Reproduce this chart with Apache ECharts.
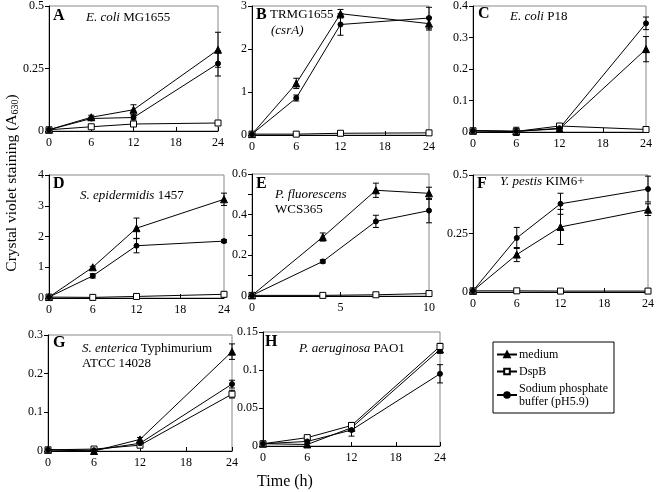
<!DOCTYPE html>
<html><head><meta charset="utf-8">
<script src="https://cdn.jsdelivr.net/npm/echarts@6/dist/echarts.min.js"></script>
<style>html,body{margin:0;padding:0;background:#fff}#c{width:660px;height:492px}</style>
</head><body><div id="c"></div>
<script>
// Time points
var t24 = [0, 6, 12, 24];
var tE = [0, 4, 7, 10];
var xTicks24 = [0, 6, 12, 18, 24];
var xTicksE = [0, 5, 10];

// Series names
var names = ['medium', 'DspB', 'Sodium phosphate buffer (pH5.9)'];

// Panel A: E. coli MG1655
var A_medium = [0.005, 0.055, 0.085, 0.325], A_medium_err = [0, 0.008, 0.02, 0.07];
var A_dspb = [0.005, 0.017, 0.028, 0.032], A_dspb_err = [0, 0.005, 0.008, 0.006];
var A_buffer = [0.005, 0.05, 0.054, 0.27], A_buffer_err = [0, 0.005, 0.01, 0.05];
// Panel B: TRMG1655 (csrA)
var B_medium = [0.02, 1.2, 2.82, 2.59], B_medium_err = [0, 0.12, 0.1, 0.15];
var B_dspb = [0.02, 0.02, 0.04, 0.05], B_dspb_err = [0, 0, 0, 0];
var B_buffer = [0.02, 0.86, 2.57, 2.72], B_buffer_err = [0, 0.07, 0.25, 0.25];
// Panel C: E. coli P18
var C_medium = [0.004, 0.002, 0.01, 0.263], C_medium_err = [0, 0.003, 0.004, 0.04];
var C_dspb = [0.004, 0.002, 0.019, 0.008], C_dspb_err = [0, 0.013, 0.003, 0.003];
var C_buffer = [0.004, 0.002, 0.012, 0.345], C_buffer_err = [0, 0.003, 0.003, 0.02];
// Panel D: S. epidermidis 1457
var D_medium = [0.03, 1.0, 2.27, 3.21], D_medium_err = [0, 0.03, 0.33, 0.2];
var D_dspb = [0.03, 0.02, 0.05, 0.12], D_dspb_err = [0, 0, 0.01, 0.03];
var D_buffer = [0.03, 0.72, 1.70, 1.85], D_buffer_err = [0, 0.07, 0.23, 0.05];
// Panel E: P. fluorescens WCS365
var E_medium = [0.003, 0.29, 0.52, 0.505], E_medium_err = [0, 0.02, 0.035, 0.03];
var E_dspb = [0.003, 0.003, 0.006, 0.012], E_dspb_err = [0, 0, 0, 0.004];
var E_buffer = [0.003, 0.17, 0.367, 0.42], E_buffer_err = [0, 0.008, 0.03, 0.06];
// Panel F: Y. pestis KIM6+
var F_medium = [0.005, 0.16, 0.278, 0.352], F_medium_err = [0, 0.03, 0.075, 0.025];
var F_dspb = [0.005, 0.005, 0.004, 0.004], F_dspb_err = [0, 0, 0, 0];
var F_buffer = [0.005, 0.231, 0.377, 0.44], F_buffer_err = [0, 0.045, 0.045, 0.055];
// Panel G: S. enterica Typhimurium ATCC 14028
var G_medium = [0.003, 0.0, 0.03, 0.257], G_medium_err = [0, 0.002, 0.005, 0.02];
var G_dspb = [0.003, 0.005, 0.015, 0.147], G_dspb_err = [0, 0.002, 0.003, 0.01];
var G_buffer = [0.003, 0.002, 0.02, 0.173], G_buffer_err = [0, 0.002, 0.005, 0.01];
// Panel H: P. aeruginosa PAO1
var H_medium = [0.003, 0.002, 0.024, 0.127], H_medium_err = [0, 0.002, 0.005, 0.005];
var H_dspb = [0.003, 0.011, 0.027, 0.131], H_dspb_err = [0, 0.002, 0.004, 0.004];
var H_buffer = [0.003, 0.006, 0.021, 0.095], H_buffer_err = [0, 0.003, 0.008, 0.012];

// Y axis ranges
var yMax = [0.5, 3, 0.4, 4, 0.6, 0.5, 0.3, 0.15];
var yInt = [0.25, 1, 0.1, 1, 0.2, 0.25, 0.1, 0.05];

var FONT = '"Liberation Serif", "DejaVu Serif", serif';

var panels = [
  {t: t24, xmax: 24, xint: 6, d: [[A_medium, A_medium_err], [A_dspb, A_dspb_err], [A_buffer, A_buffer_err]], g: [49, 5, 169, 126]},
  {t: t24, xmax: 24, xint: 6, d: [[B_medium, B_medium_err], [B_dspb, B_dspb_err], [B_buffer, B_buffer_err]], g: [252, 4, 177, 131]},
  {t: t24, xmax: 24, xint: 6, d: [[C_medium, C_medium_err], [C_dspb, C_dspb_err], [C_buffer, C_buffer_err]], g: [473, 4, 173, 128]},
  {t: t24, xmax: 24, xint: 6, d: [[D_medium, D_medium_err], [D_dspb, D_dspb_err], [D_buffer, D_buffer_err]], g: [49, 175, 175, 123]},
  {t: tE, xmax: 10, xint: 5, d: [[E_medium, E_medium_err], [E_dspb, E_dspb_err], [E_buffer, E_buffer_err]], g: [252, 174, 177, 122], minor: true},
  {t: t24, xmax: 24, xint: 6, d: [[F_medium, F_medium_err], [F_dspb, F_dspb_err], [F_buffer, F_buffer_err]], g: [473, 175, 175, 117]},
  {t: t24, xmax: 24, xint: 6, d: [[G_medium, G_medium_err], [G_dspb, G_dspb_err], [G_buffer, G_buffer_err]], g: [48, 335, 184, 116]},
  {t: t24, xmax: 24, xint: 6, d: [[H_medium, H_medium_err], [H_dspb, H_dspb_err], [H_buffer, H_buffer_err]], g: [263, 332, 177, 114]}
];

var symbols = [
  {symbol: 'triangle', size: 7, fill: '#000'},
  {symbol: 'rect', size: 6, fill: '#fff'},
  {symbol: 'circle', size: 5, fill: '#000'}
];

var grids = [], xAxes = [], yAxes = [], series = [];
panels.forEach(function (p, i) {
  grids.push({left: p.g[0], top: p.g[1], width: p.g[2], height: p.g[3], show: true, borderColor: '#888', borderWidth: 1, backgroundColor: 'transparent'});
  xAxes.push({
    type: 'value', gridIndex: i, min: 0, max: p.xmax, interval: p.xint,
    axisLine: {onZero: false, lineStyle: {color: '#000', width: 1}},
    axisTick: {inside: true, length: 4, lineStyle: {color: '#000'}},
    axisLabel: {color: '#000', fontFamily: FONT, fontSize: 12, margin: 6},
    splitLine: {show: false}
  });
  yAxes.push({
    type: 'value', gridIndex: i, min: 0, max: yMax[i], interval: yInt[i],
    axisLine: {show: true, onZero: false, lineStyle: {color: '#000', width: 1}},
    axisTick: {show: true, length: 4, lineStyle: {color: '#000'}},
    minorTick: {show: !!p.minor, splitNumber: 2, length: 4, lineStyle: {color: '#000'}},
    axisLabel: {color: '#000', fontFamily: FONT, fontSize: 12, margin: 5},
    splitLine: {show: false}
  });
  p.d.forEach(function (pair, k) {
    var vals = pair[0], errs = pair[1], s = symbols[k];
    series.push({
      name: names[k], type: 'line', xAxisIndex: i, yAxisIndex: i,
      data: p.t.map(function (x, j) { return [x, vals[j]]; }),
      symbol: s.symbol, symbolSize: s.size, showAllSymbol: true,
      lineStyle: {color: '#000', width: 1},
      itemStyle: {color: s.fill, borderColor: '#000', borderWidth: 1},
      z: 3, animation: false
    });
    series.push({
      name: 'err', type: 'custom', xAxisIndex: i, yAxisIndex: i,
      data: p.t.map(function (x, j) { return [x, vals[j] - errs[j], vals[j] + errs[j], errs[j]]; }),
      renderItem: function (params, api) {
        if (api.value(3) <= 0) return null;
        var lo = api.coord([api.value(0), api.value(1)]);
        var hi = api.coord([api.value(0), api.value(2)]);
        var w = 3;
        var st = {stroke: '#000', lineWidth: 1};
        return {type: 'group', children: [
          {type: 'line', shape: {x1: lo[0], y1: lo[1], x2: hi[0], y2: hi[1]}, style: st},
          {type: 'line', shape: {x1: lo[0] - w, y1: lo[1], x2: lo[0] + w, y2: lo[1]}, style: st},
          {type: 'line', shape: {x1: hi[0] - w, y1: hi[1], x2: hi[0] + w, y2: hi[1]}, style: st}
        ]};
      },
      z: 2, animation: false, silent: true
    });
  });
});

function ttl(text, left, top, bold, size) {
  return {
    text: text, left: left, top: top, padding: 0,
    textStyle: {fontFamily: FONT, fontSize: size || 13, fontWeight: bold ? 'bold' : 'normal', color: '#000',
      rich: {i: {fontFamily: FONT, fontSize: size || 13, fontStyle: 'italic', color: '#000'}}}
  };
}

var titles = [
  ttl('A', 53, 8, true, 16), ttl('{i|E. coli} MG1655', 86, 11),
  ttl('B', 256, 7, true, 16), ttl('TRMG1655', 270, 8), ttl('{i|(csrA)}', 271, 24),
  ttl('C', 478, 6, true, 16), ttl('{i|E. coli} P18', 510, 10),
  ttl('D', 53, 176, true, 16), ttl('{i|S. epidermidis} 1457', 80, 189),
  ttl('E', 256, 176, true, 16), ttl('{i|P. fluorescens}', 275, 188), ttl('WCS365', 275, 203),
  ttl('F', 477, 176, true, 16), ttl('{i|Y. pestis} KIM6+', 500, 175),
  ttl('G', 53, 335, true, 16), ttl('{i|S. enterica} Typhimurium', 82, 342), ttl('ATCC 14028', 82, 357),
  ttl('H', 265, 334, true, 16), ttl('{i|P. aeruginosa} PAO1', 299, 342)
];

var option = {
  backgroundColor: '#fff',
  animation: false,
  title: titles,
  grid: grids,
  xAxis: xAxes,
  yAxis: yAxes,
  series: series,
  legend: {
    data: names,
    orient: 'vertical',
    left: 493, top: 342,
    padding: [6, 6, 5, 3],
    itemGap: 4, itemWidth: 20, itemHeight: 7,
    borderColor: '#000', borderWidth: 1,
    selectedMode: false,
    formatter: function (n) { return n === names[2] ? 'Sodium phosphate\nbuffer (pH5.9)' : n; },
    textStyle: {fontFamily: FONT, fontSize: 12, color: '#000', lineHeight: 13, padding: [0, 0, 0, -3]}
  },
  graphic: [
    {type: 'text', x: 12, y: 183, rotation: Math.PI / 2,
      style: {text: 'Crystal violet staining (A{s|630})', fill: '#000', font: '15.5px ' + FONT,
        align: 'center', verticalAlign: 'middle',
        rich: {s: {fontSize: 10, fontFamily: FONT, fill: '#000', padding: [7, 0, 0, 0]}}}},
    {type: 'text', x: 285, y: 482,
      style: {text: 'Time (h)', fill: '#000', font: '16px ' + FONT, align: 'center', verticalAlign: 'middle'}}
  ]
};

var chart = echarts.init(document.getElementById('c'), null, {renderer: 'canvas'});
chart.setOption(option);
</script>
</body></html>
